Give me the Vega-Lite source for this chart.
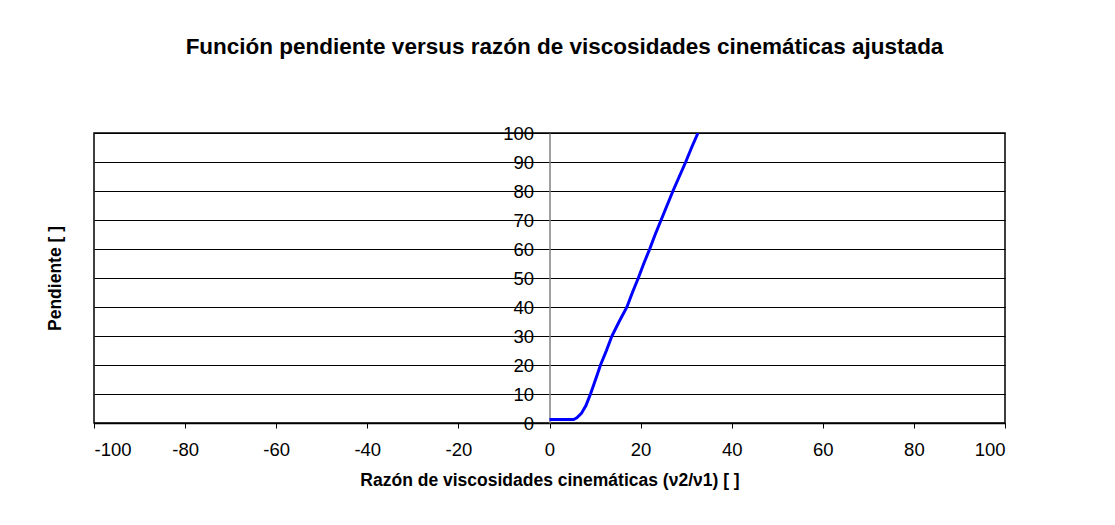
{
  "$schema": "https://vega.github.io/schema/vega-lite/v6.json",
  "autosize": "none",
  "width": 911,
  "height": 290,
  "padding": {"left": 94, "top": 133, "right": 110, "bottom": 102},
  "background": "white",
  "title": {
    "text": "Función pendiente versus razón de viscosidades cinemáticas ajustada",
    "anchor": "middle",
    "frame": "group",
    "offset": 66,
    "dx": 15,
    "font": "Liberation Sans",
    "fontSize": 22.5,
    "fontWeight": "bold",
    "color": "black"
  },
  "data": {
    "values": [
      {"x": 0, "y": 1.2},
      {"x": 5.3, "y": 1.2},
      {"x": 6, "y": 1.8},
      {"x": 7, "y": 3.3},
      {"x": 8, "y": 6},
      {"x": 9, "y": 10},
      {"x": 10, "y": 14.5},
      {"x": 11.2, "y": 20},
      {"x": 12.5, "y": 25},
      {"x": 13.7, "y": 30},
      {"x": 15.3, "y": 35},
      {"x": 17, "y": 40},
      {"x": 18.2, "y": 45},
      {"x": 19.5, "y": 50},
      {"x": 20.7, "y": 55},
      {"x": 22, "y": 60},
      {"x": 23.2, "y": 65},
      {"x": 24.5, "y": 70},
      {"x": 25.8, "y": 75},
      {"x": 27.1, "y": 80},
      {"x": 28.5, "y": 85},
      {"x": 29.9, "y": 90},
      {"x": 31.2, "y": 95},
      {"x": 32.6, "y": 100}
    ]
  },
  "mark": {"type": "line", "color": "#0000FF", "strokeWidth": 3, "clip": true},
  "encoding": {
    "x": {
      "field": "x",
      "type": "quantitative",
      "scale": {"domain": [-100, 100], "nice": false, "zero": false},
      "axis": {
        "title": "Razón de viscosidades cinemáticas (ν2/ν1) [ ]",
        "values": [-100, -80, -60, -40, -20, 0, 20, 40, 60, 80, 100],
        "labelExpr": "datum.value < 0 ? '-' + abs(datum.value) : '' + datum.value",
        "grid": false,
        "domainColor": "black",
        "domainWidth": 1.5,
        "tickColor": "black",
        "tickSize": 5,
        "labelPadding": 12,
        "labelFont": "Liberation Sans",
        "labelFontSize": 18.5,
        "labelColor": "black",
        "titleFont": "Liberation Sans",
        "titleFontSize": 17.5,
        "titleFontWeight": "bold",
        "titleColor": "black",
        "titlePadding": 13
      }
    },
    "y": {
      "field": "y",
      "type": "quantitative",
      "scale": {"domain": [0, 100], "nice": false},
      "axis": {
        "title": "Pendiente [ ]",
        "values": [0, 10, 20, 30, 40, 50, 60, 70, 80, 90, 100],
        "offset": -455.5,
        "grid": true,
        "gridColor": "black",
        "gridWidth": 1,
        "gridOpacity": 1,
        "domainColor": "#808080",
        "domainWidth": 1.5,
        "tickColor": "black",
        "tickSize": 5,
        "labelPadding": 11,
        "labelFont": "Liberation Sans",
        "labelFontSize": 18.5,
        "labelColor": "black",
        "titleFont": "Liberation Sans",
        "titleFontSize": 17.5,
        "titleFontWeight": "bold",
        "titleColor": "black",
        "titleAngle": 270,
        "titleX": -494.5,
        "titleY": 145,
        "titleAlign": "center",
        "titleBaseline": "middle"
      }
    }
  },
  "config": {
    "view": {"stroke": "black", "strokeWidth": 1.5}
  }
}
